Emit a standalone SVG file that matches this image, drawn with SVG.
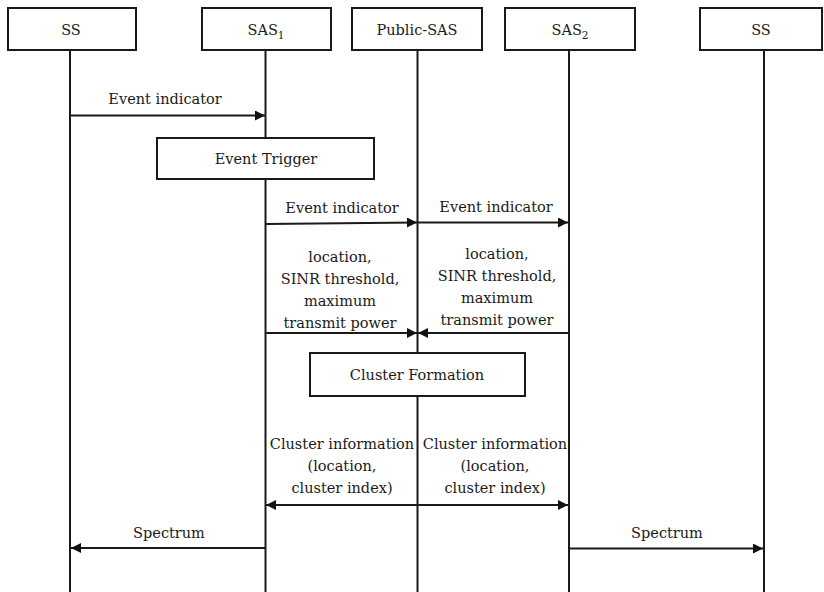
<svg xmlns="http://www.w3.org/2000/svg" width="824" height="592" viewBox="0 0 824 592">
<defs>
<marker id="ah" viewBox="0 0 10 10" refX="10" refY="5" markerWidth="11" markerHeight="10" markerUnits="userSpaceOnUse" orient="auto-start-reverse">
<path d="M0,0 L10,5 L0,10 z" fill="#111"/>
</marker>
<style>
.box{fill:#fff;stroke:#1a1a1a;stroke-width:2}
.life{stroke:#1a1a1a;stroke-width:2;fill:none}
.msg{stroke:#1a1a1a;stroke-width:2;fill:none}
.t{font-family:"DejaVu Serif","Liberation Serif","Noto Serif",serif;font-size:14.5px;fill:#1a1a1a;text-anchor:middle}
</style>
</defs>
<rect width="824" height="592" fill="#fff"/>
<g id="lifelines">
<line class="life" x1="70" y1="50" x2="70" y2="592"/>
<line class="life" x1="265.5" y1="50" x2="265.5" y2="592"/>
<line class="life" x1="417.5" y1="50" x2="417.5" y2="592"/>
<line class="life" x1="569" y1="50" x2="569" y2="592"/>
<line class="life" x1="764" y1="50" x2="764" y2="592"/>
</g>
<g id="ss1"><rect class="box" x="8" y="8" width="128" height="42"/><text class="t" x="71" y="35">SS</text></g>
<g id="sas1"><rect class="box" x="202" y="8" width="129" height="42"/><text class="t" x="266" y="35">SAS<tspan font-size="10.5" dy="4">1</tspan></text></g>
<g id="publicsas"><rect class="box" x="352" y="8" width="130" height="42"/><text class="t" x="417" y="35">Public-SAS</text></g>
<g id="sas2"><rect class="box" x="505" y="8" width="130" height="42"/><text class="t" x="570" y="35">SAS<tspan font-size="10.5" dy="4">2</tspan></text></g>
<g id="ss2"><rect class="box" x="700" y="8" width="122" height="42"/><text class="t" x="761" y="35">SS</text></g>
<g id="eventtrigger"><rect class="box" x="157" y="138" width="217" height="41"/><text class="t" x="266" y="164">Event Trigger</text></g>
<g id="clusterformation"><rect class="box" x="310" y="353" width="215" height="43"/><text class="t" x="417" y="380">Cluster Formation</text></g>
<g id="connectors">
<line class="msg" x1="70" y1="115.5" x2="265" y2="115.5" marker-end="url(#ah)"/>
<line class="msg" x1="266" y1="224" x2="417" y2="222.5" marker-end="url(#ah)"/>
<line class="msg" x1="418" y1="222.5" x2="568" y2="222.5" marker-end="url(#ah)"/>
<line class="msg" x1="266" y1="333" x2="417" y2="333" marker-end="url(#ah)"/>
<line class="msg" x1="568" y1="333" x2="418" y2="333" marker-end="url(#ah)"/>
<line class="msg" x1="266" y1="505" x2="568" y2="505" marker-start="url(#ah)" marker-end="url(#ah)"/>
<line class="msg" x1="265" y1="548" x2="71" y2="548" marker-end="url(#ah)"/>
<line class="msg" x1="569" y1="548.5" x2="763" y2="548.5" marker-end="url(#ah)"/>
</g>
<g id="labels">
<text class="t" x="165" y="104">Event indicator</text>
<text class="t" x="342" y="213">Event indicator</text>
<text class="t" x="496" y="212">Event indicator</text>
<text class="t" x="340" y="262">location,</text>
<text class="t" x="340" y="284">SINR threshold,</text>
<text class="t" x="340" y="306">maximum</text>
<text class="t" x="340" y="328">transmit power</text>
<text class="t" x="497" y="259">location,</text>
<text class="t" x="497" y="281">SINR threshold,</text>
<text class="t" x="497" y="303">maximum</text>
<text class="t" x="497" y="325">transmit power</text>
<text class="t" x="342" y="449">Cluster information</text>
<text class="t" x="342" y="471">(location,</text>
<text class="t" x="342" y="493">cluster index)</text>
<text class="t" x="495" y="449">Cluster information</text>
<text class="t" x="495" y="471">(location,</text>
<text class="t" x="495" y="493">cluster index)</text>
<text class="t" x="169" y="538">Spectrum</text>
<text class="t" x="667" y="538">Spectrum</text>
</g>
</svg>
